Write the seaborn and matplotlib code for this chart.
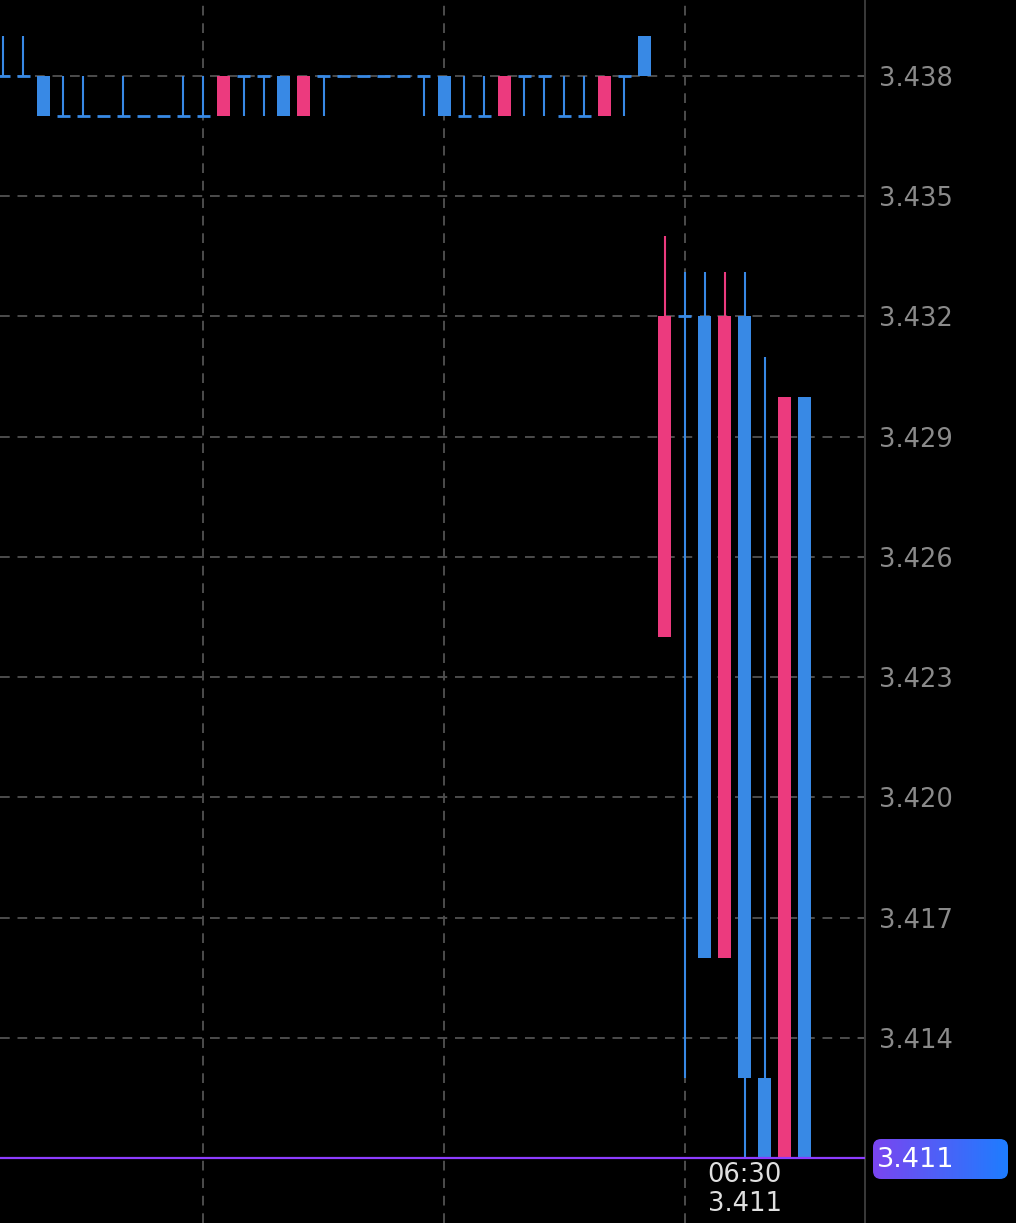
import numpy as np
import pandas as pd
import matplotlib
matplotlib.use("Agg")
import matplotlib.pyplot as plt
from matplotlib.patches import FancyBboxPatch
import seaborn as sns

# candle data (one bar per step)
opens = [3.438, 3.438, 3.438, 3.437, 3.437, 3.437, 3.437, 3.437, 3.437, 3.437,
         3.437, 3.437, 3.438, 3.438, 3.438, 3.437, 3.438, 3.438, 3.438, 3.438,
         3.438, 3.438, 3.438, 3.437, 3.437, 3.437, 3.438, 3.438, 3.437, 3.437,
         3.437, 3.438, 3.438, 3.424, 3.432, 3.432, 3.416, 3.432, 3.413, 3.411,
         3.430]
closes = [3.438, 3.438, 3.437, 3.437, 3.437, 3.437, 3.437, 3.437, 3.437, 3.437,
          3.437, 3.438, 3.438, 3.438, 3.437, 3.438, 3.438, 3.438, 3.438, 3.438,
          3.438, 3.438, 3.437, 3.437, 3.437, 3.438, 3.438, 3.438, 3.437, 3.437,
          3.438, 3.438, 3.439, 3.432, 3.432, 3.416, 3.432, 3.413, 3.411, 3.430,
          3.411]
highs = [3.439, 3.439, 3.438, 3.438, 3.438, 3.437, 3.438, 3.437, 3.437, 3.438,
         3.438, 3.438, 3.438, 3.438, 3.438, 3.438, 3.438, 3.438, 3.438, 3.438,
         3.438, 3.438, 3.438, 3.438, 3.438, 3.438, 3.438, 3.438, 3.438, 3.438,
         3.438, 3.438, 3.439, 3.434, 3.4331, 3.4331, 3.4331, 3.4331, 3.431, 3.430,
         3.430]
lows = [3.438, 3.438, 3.437, 3.437, 3.437, 3.437, 3.437, 3.437, 3.437, 3.437,
        3.437, 3.437, 3.437, 3.437, 3.437, 3.437, 3.437, 3.438, 3.438, 3.438,
        3.438, 3.437, 3.437, 3.437, 3.437, 3.437, 3.437, 3.437, 3.437, 3.437,
        3.437, 3.437, 3.438, 3.424, 3.413, 3.416, 3.416, 3.411, 3.411, 3.411,
        3.411]
sides = list("bbbbbbbbbbbpbbbpbbbbbbbbbpbbbbpbbpbbpbbpb")

last_price = 3.411
last_time = "06:30"
price_ticks = [3.414, 3.417, 3.420, 3.423, 3.426, 3.429, 3.432, 3.435, 3.438]
time_grid = [10, 22, 34]

BLUE = "#3889e5"
PINK = "#ec3a7e"

df = pd.DataFrame({"open": opens, "high": highs, "low": lows,
                   "close": closes, "side": sides})
df["x"] = np.arange(len(df))
df["color"] = df["side"].map({"b": BLUE, "p": PINK})
df["bottom"] = df[["open", "close"]].min(axis=1)
df["height"] = (df["open"] - df["close"]).abs()

sns.set_theme(style="dark")
plt.rcParams["font.family"] = ["DejaVu Sans"]

fig = plt.figure(figsize=(10.16, 12.23), dpi=100, facecolor="black")
ax = fig.add_axes([0, 0, 865 / 1016, 1])
ax.set_facecolor("black")

# grid
for y in price_ticks:
    ax.axhline(y, color="#4d4d4d", lw=1.4, ls=(0, (5, 4)), zorder=0)
for x in time_grid:
    ax.axvline(x, color="#4d4d4d", lw=1.4, ls=(0, (5, 4)), zorder=0)

# wicks
ax.vlines(df["x"], df["low"], df["high"], colors=df["color"], lw=1.5, zorder=2)
# bodies
w = 0.65
solid = df[df["height"] > 0]
ax.bar(solid["x"], solid["height"], bottom=solid["bottom"], width=w,
       color=solid["color"], linewidth=0, zorder=3)
flat = df[df["height"] == 0]
ax.hlines(flat["open"], flat["x"] - w / 2, flat["x"] + w / 2,
          colors=flat["color"], lw=2, zorder=3)

# last price line
ax.axhline(last_price, color="#8d3dff", lw=1.6, zorder=4)

ax.set_xlim(-0.15, 43.0)
ax.set_ylim(3.409382, 3.439896)
ax.set_xticks(time_grid)
ax.set_xticklabels([])
ax.tick_params(axis="x", length=0)
ax.yaxis.tick_right()
ax.set_yticks(price_ticks)
ax.set_yticklabels([f"{v:.3f}" for v in price_ticks])
ax.tick_params(axis="y", direction="in", length=5, width=1.2, color="#555555",
               labelcolor="#8a8a8a", labelsize=18.5, pad=10)
ax.grid(False)
for side in ["top", "bottom", "left"]:
    ax.spines[side].set_visible(False)
ax.spines["right"].set_color("#3a3a3a")
ax.spines["right"].set_linewidth(1.4)

# time / price annotation under the last bars
ax.annotate(last_time, xy=(37, last_price), xytext=(0, -12),
            textcoords="offset points", ha="center", va="center",
            color="#e0e0e0", fontsize=18.5)
ax.annotate(f"{last_price:.3f}", xy=(37, last_price), xytext=(0, -33),
            textcoords="offset points", ha="center", va="center",
            color="#e0e0e0", fontsize=18.5)

# gradient price badge
bx = fig.add_axes([873 / 1016, 1 - 1179 / 1223, 135 / 1016, 40 / 1223])
bx.set_axis_off()
grad = np.linspace(0, 1, 256).reshape(1, -1)
cmap = matplotlib.colors.LinearSegmentedColormap.from_list("badge", ["#7a45f0", "#1e7dff"])
im = bx.imshow(grad, aspect="auto", cmap=cmap, extent=[0, 1, 0, 1])
badge = FancyBboxPatch((0.0, 0.0), 1, 1, boxstyle="round,pad=0,rounding_size=0.06",
                       transform=bx.transAxes, facecolor="none", edgecolor="none",
                       mutation_aspect=135 / 40)
bx.add_patch(badge)
im.set_clip_path(badge)
bx.set_xlim(0, 1)
bx.set_ylim(0, 1)
bx.text(0.03, 0.48, f"{last_price:.3f}", color="white", fontsize=19.5,
        ha="left", va="center", transform=bx.transAxes)

fig.savefig("out.png", dpi=100, facecolor="black")
